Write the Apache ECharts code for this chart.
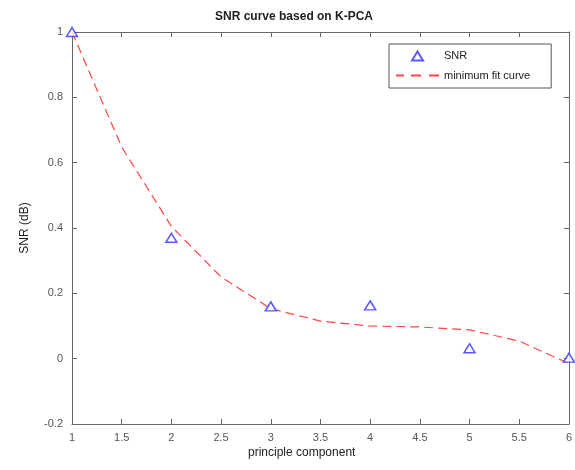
<!DOCTYPE html>
<html>
<head>
<meta charset="utf-8">
<script src="https://cdn.jsdelivr.net/npm/echarts@6/dist/echarts.min.js"></script>
<style>
html,body{margin:0;padding:0;background:#fff;}
#c{width:575px;height:470px;}
</style>
</head>
<body>
<div id="c"></div>
<script>
var snrX = [1, 2, 3, 4, 5, 6];
var snrY = [1.0, 0.37, 0.16, 0.163, 0.032, 0.003];
var fitX = [1, 1.5, 2, 2.5, 3, 3.5, 4, 4.5, 5, 5.5, 6];
var fitY = [1.0, 0.648, 0.405, 0.25, 0.153, 0.115, 0.1, 0.097, 0.088, 0.054, -0.015];
var xTicks = {min: 1, max: 6, interval: 0.5};
var yTicks = {min: -0.2, max: 1, interval: 0.2};

var snrData = snrX.map(function (x, i) { return [x, snrY[i]]; });
var fitData = fitX.map(function (x, i) { return [x, fitY[i]]; });

var axisColor = '#666';
var labelColor = '#555';
var font = '"Liberation Sans", Arial, sans-serif';

var chart = echarts.init(document.getElementById('c'), null, {renderer: 'canvas'});
chart.setOption({
  backgroundColor: '#fff',
  animation: false,
  title: {
    text: 'SNR curve based on K-PCA',
    left: 210, top: 6,
    textStyle: {fontFamily: font, fontSize: 12, fontWeight: 'bold', color: '#222'}
  },
  grid: {left: 72, right: 6, top: 32, bottom: 46, containLabel: false},
  legend: {
    orient: 'vertical',
    left: 389, top: 44,
    padding: [6, 21, 7, 6],
    itemGap: 8,
    itemWidth: 43, itemHeight: 10,
    symbolKeepAspect: true,
    borderColor: '#555', borderWidth: 1,
    backgroundColor: '#fff',
    textStyle: {fontFamily: font, fontSize: 11, color: '#222'},
    data: [
      {name: 'SNR', icon: 'path://M0,10 L0,10 M16,9.5 L21.5,0.5 L27,9.5 Z M43,0 L43,0'},
      {name: 'minimum fit curve',
       icon: 'path://M0,0 L0,0 M0,4 L8,4 L8,6 L0,6 Z M15,4 L25,4 L25,6 L15,6 Z M33,4 L43,4 L43,6 L33,6 Z M43,10 L43,10',
       itemStyle: {color: '#ff4545', borderWidth: 0}}
    ]
  },
  xAxis: [{
    type: 'value', min: xTicks.min, max: xTicks.max, interval: xTicks.interval,
    axisLine: {show: true, onZero: false, lineStyle: {color: axisColor}},
    axisTick: {show: true, inside: true, length: 5, lineStyle: {color: axisColor}},
    axisLabel: {color: labelColor, fontFamily: font, fontSize: 11, margin: 8},
    splitLine: {show: false}
  }, {
    type: 'value', position: 'top', min: xTicks.min, max: xTicks.max, interval: xTicks.interval,
    axisLine: {show: true, onZero: false, lineStyle: {color: axisColor}},
    axisTick: {show: true, inside: true, length: 5, lineStyle: {color: axisColor}},
    axisLabel: {show: false},
    splitLine: {show: false}
  }],
  yAxis: [{
    type: 'value', min: yTicks.min, max: yTicks.max, interval: yTicks.interval,
    name: 'SNR (dB)', nameLocation: 'middle', nameGap: 41,
    nameTextStyle: {fontFamily: font, fontSize: 12, color: '#222'},
    axisLine: {show: true, onZero: false, lineStyle: {color: axisColor}},
    axisTick: {show: true, inside: true, length: 5, lineStyle: {color: axisColor}},
    axisLabel: {color: labelColor, fontFamily: font, fontSize: 11, margin: 9},
    splitLine: {show: false}
  }, {
    type: 'value', position: 'right', min: yTicks.min, max: yTicks.max, interval: yTicks.interval,
    axisLine: {show: true, onZero: false, lineStyle: {color: axisColor}},
    axisTick: {show: true, inside: true, length: 5, lineStyle: {color: axisColor}},
    axisLabel: {show: false},
    splitLine: {show: false}
  }],
  graphic: [{
    type: 'text', left: 248, top: 447,
    style: {text: 'principle component', fontFamily: font, fontSize: 12, fill: '#222'}
  }],
  series: [{
    name: 'minimum fit curve',
    type: 'line',
    data: fitData,
    showSymbol: false,
    symbol: 'none',
    smooth: false,
    clip: false,
    lineStyle: {color: '#ff4545', width: 1.2, type: [9, 5]},
    itemStyle: {color: '#ff4545'},
    z: 2
  }, {
    name: 'SNR',
    type: 'scatter',
    data: snrData,
    symbol: 'triangle',
    symbolSize: [11, 9],
    symbolKeepAspect: true,
    clip: false,
    itemStyle: {color: '#fff', borderColor: '#3030ff', borderWidth: 1.5},
    z: 3
  }]
});
</script>
</body>
</html>
